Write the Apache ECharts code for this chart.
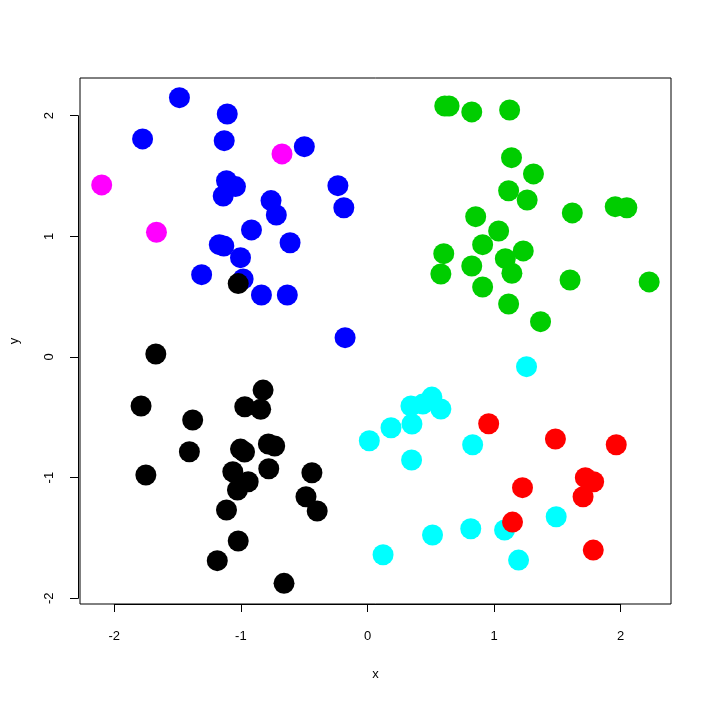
<!DOCTYPE html>
<html>
<head>
<meta charset="utf-8">
<script src="https://cdn.jsdelivr.net/npm/echarts@6/dist/echarts.min.js"></script>
<style>
html,body{margin:0;padding:0;background:#fff;}
#chart{width:712px;height:702px;}
</style>
</head>
<body>
<div id="chart"></div>
<script>
// Data, one array of [x, y] per colour group
var bluePoints = [
  [-1.499, 2.149], [-1.120, 2.014], [-1.791, 1.807], [-1.144, 1.793], [-0.509, 1.743],
  [-1.126, 1.461], [-1.055, 1.412], [-1.152, 1.334], [-0.243, 1.420], [-0.196, 1.237],
  [-0.773, 1.296], [-0.731, 1.177], [-0.928, 1.053], [-1.183, 0.931], [-1.147, 0.920],
  [-0.622, 0.947], [-1.015, 0.823], [-1.323, 0.682], [-0.994, 0.646], [-0.849, 0.514],
  [-0.644, 0.514], [-0.186, 0.160]
];
var magentaPoints = [
  [-2.115, 1.426], [-1.681, 1.034], [-0.686, 1.683]
];
var greenPoints = [
  [0.604, 2.080], [0.638, 2.080], [0.818, 2.031], [1.118, 2.047], [1.133, 1.652],
  [1.307, 1.517], [1.110, 1.378], [1.257, 1.301], [1.615, 1.194], [1.955, 1.246],
  [2.047, 1.237], [0.849, 1.163], [1.031, 1.044], [0.904, 0.931], [0.596, 0.856],
  [1.226, 0.879], [1.084, 0.815], [0.573, 0.688], [0.818, 0.754], [1.136, 0.694],
  [1.597, 0.638], [2.224, 0.622], [0.904, 0.580], [1.110, 0.439], [1.363, 0.293]
];
var cyanPoints = [
  [1.252, -0.080], [0.336, -0.406], [0.430, -0.390], [0.502, -0.332], [0.573, -0.431],
  [0.344, -0.555], [0.178, -0.586], [0.006, -0.694], [0.341, -0.854], [0.825, -0.727],
  [1.487, -1.324], [0.810, -1.423], [0.507, -1.475], [1.078, -1.434], [0.115, -1.639],
  [1.189, -1.683]
];
var blackPoints = [
  [-1.686, 0.025], [-1.803, -0.406], [-0.836, -0.274], [-0.981, -0.412], [-0.855, -0.433],
  [-1.394, -0.522], [-1.420, -0.785], [-0.794, -0.721], [-0.744, -0.738], [-1.015, -0.763],
  [-0.983, -0.787], [-0.791, -0.926], [-1.765, -0.978], [-1.076, -0.951], [-0.449, -0.959],
  [-0.954, -1.034], [-1.039, -1.102], [-0.496, -1.158], [-0.407, -1.276], [-1.126, -1.268],
  [-1.033, -1.525], [-1.199, -1.688], [-0.670, -1.876], [-1.033, 0.608]
];
var redPoints = [
  [0.952, -0.553], [1.481, -0.680], [1.963, -0.727], [1.220, -1.083], [1.718, -1.000],
  [1.784, -1.034], [1.700, -1.158], [1.141, -1.368], [1.781, -1.600]
];
var tickValues = [-2, -1, 0, 1, 2];
var xTitle = 'x';
var yTitle = 'y';

var FONT = '"Liberation Sans", Arial, sans-serif';
var chart = echarts.init(document.getElementById('chart'), null, {renderer: 'canvas'});

function grp(name, pts, color) {
  return {
    name: name, type: 'scatter', xAxisIndex: 0, yAxisIndex: 0,
    data: pts, symbol: 'circle', symbolSize: 21,
    itemStyle: {color: color, opacity: 1},
    emphasis: {disabled: true}, silent: true
  };
}

chart.setOption({
  animation: false,
  backgroundColor: '#ffffff',
  grid: [
    {left: 78, top: 78, right: 41, bottom: 98, show: true, borderColor: '#000', borderWidth: 1, backgroundColor: 'transparent', containLabel: false},
    {left: 114.3, right: 91.3, top: 78, bottom: 98, containLabel: false},
    {left: 78, right: 41, top: 115.7, bottom: 103.7, containLabel: false}
  ],
  xAxis: [
    {gridIndex: 0, type: 'value', min: -2.287, max: 2.397,
     axisLine: {show: false}, axisTick: {show: false}, axisLabel: {show: false}, splitLine: {show: false},
     name: xTitle, nameLocation: 'middle', nameGap: 64,
     nameTextStyle: {fontFamily: FONT, fontSize: 13, color: '#000'}},
    {gridIndex: 1, type: 'value', min: tickValues[0], max: tickValues[tickValues.length - 1], interval: 1,
     position: 'bottom',
     axisLine: {show: true, lineStyle: {color: '#000', width: 1}},
     axisTick: {show: true, length: 8, lineStyle: {color: '#000', width: 1}},
     axisLabel: {show: true, margin: 26, fontFamily: FONT, fontSize: 13, color: '#000'},
     splitLine: {show: false}},
    {gridIndex: 2, type: 'value', show: false, min: 0, max: 1}
  ],
  yAxis: [
    {gridIndex: 0, type: 'value', min: -2.047, max: 2.312,
     axisLine: {show: false}, axisTick: {show: false}, axisLabel: {show: false}, splitLine: {show: false},
     name: yTitle, nameLocation: 'middle', nameGap: 59, nameRotate: 90,
     nameTextStyle: {fontFamily: FONT, fontSize: 13, color: '#000'}},
    {gridIndex: 1, type: 'value', show: false, min: 0, max: 1},
    {gridIndex: 2, type: 'value', min: tickValues[0], max: tickValues[tickValues.length - 1], interval: 1,
     position: 'left',
     axisLine: {show: true, lineStyle: {color: '#000', width: 1}},
     axisTick: {show: true, length: 8, lineStyle: {color: '#000', width: 1}},
     axisLabel: {show: true, margin: 22, rotate: 90, fontFamily: FONT, fontSize: 13, color: '#000'},
     splitLine: {show: false}}
  ],
  series: [
    grp('blue', bluePoints, '#0000FF'),
    grp('magenta', magentaPoints, '#FF00FF'),
    grp('green', greenPoints, '#00CD00'),
    grp('cyan', cyanPoints, '#00FFFF'),
    grp('black', blackPoints, '#000000'),
    grp('red', redPoints, '#FF0000')
  ]
});
</script>
</body>
</html>
